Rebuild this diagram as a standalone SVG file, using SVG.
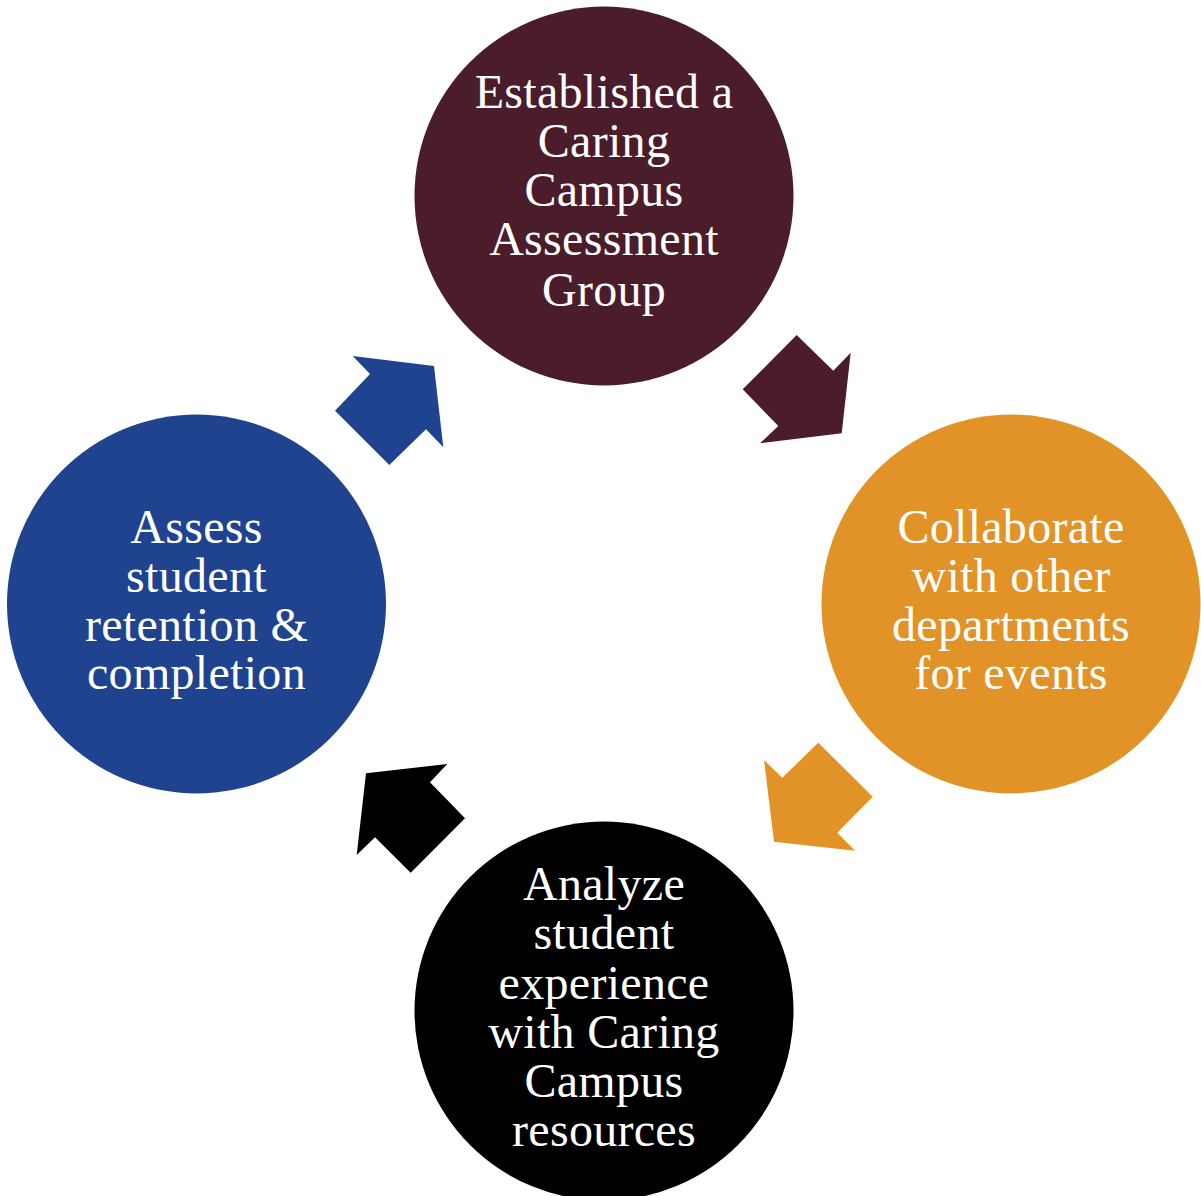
<svg xmlns="http://www.w3.org/2000/svg" width="1201" height="1196" viewBox="0 0 1201 1196">
<style>
.lbl{font-family:"Liberation Serif","DejaVu Serif",serif;font-size:48px;letter-spacing:0.3px;fill:#ffffff;text-anchor:middle}
</style>
<rect width="1201" height="1196" fill="#ffffff"/>
<g id="connectors">
<polygon fill="#4B1C29" points="742.7,389.3 796.7,335 833.3,370.7 850.7,352.7 841.7,433.3 760,443.3 778.3,426"/>
<polygon fill="#E29327" points="818.3,742.7 872.7,796.7 837.3,832.7 855,850.7 774,841.7 764,760 782.3,777.7"/>
<polygon fill="#000000" points="447.3,764 366,773.3 356.7,855 375,837.3 410.7,872.7 465,818.3 430,782.3"/>
<polygon fill="#1F438E" points="352.7,356 434,366 443.3,447.3 426,429.3 389.3,465 335,410.7 370,374"/>
</g>
<g id="node-top">
<circle cx="604" cy="196" r="189.5" fill="#4B1C29"/>
<text class="lbl" x="604" y="108">Established a</text>
<text class="lbl" x="604" y="157">Caring</text>
<text class="lbl" x="604" y="206">Campus</text>
<text class="lbl" x="604" y="255">Assessment</text>
<text class="lbl" x="604" y="306">Group</text>
</g>
<g id="node-right">
<circle cx="1011" cy="604" r="189.5" fill="#E29327"/>
<text class="lbl" x="1011" y="543">Collaborate</text>
<text class="lbl" x="1011" y="592">with other</text>
<text class="lbl" x="1011" y="641">departments</text>
<text class="lbl" x="1011" y="689">for events</text>
</g>
<g id="node-bottom">
<circle cx="604" cy="1011" r="189.5" fill="#000000"/>
<text class="lbl" x="604" y="900">Analyze</text>
<text class="lbl" x="604" y="949">student</text>
<text class="lbl" x="604" y="999">experience</text>
<text class="lbl" x="604" y="1048">with Caring</text>
<text class="lbl" x="604" y="1097">Campus</text>
<text class="lbl" x="604" y="1146">resources</text>
</g>
<g id="node-left">
<circle cx="196.5" cy="604" r="189.5" fill="#1F438E"/>
<text class="lbl" x="196.5" y="543">Assess</text>
<text class="lbl" x="196.5" y="592">student</text>
<text class="lbl" x="196.5" y="641">retention &amp;</text>
<text class="lbl" x="196.5" y="689">completion</text>
</g>
</svg>
